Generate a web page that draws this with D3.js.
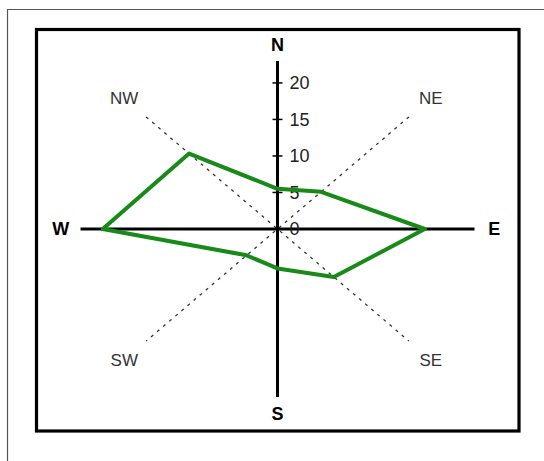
<!DOCTYPE html>
<html>
<head>
<meta charset="utf-8">
<script src="https://cdn.jsdelivr.net/npm/d3@7"></script>
<style>
  body { margin: 0; background: #fff; }
  svg { display: block; }
  text { font-family: "Liberation Sans", Arial, sans-serif; }
</style>
</head>
<body>
<div id="chart"></div>
<script>
    var width = 544,
        height = 461;

    // compass directions, clockwise from north
    var directions = ["N", "NE", "E", "SE", "S", "SW", "W", "NW"];
    var angles = [90, 45, 0, -45, -90, -135, 180, 135];
    var values = [5.5, 7.2, 17.2, 9.3, 5.4, 5.1, 20.4, 14.6];
    var ticks = [0, 5, 10, 15, 20];

    var maxR = 23,     // axis length
        diagR = 21.7,  // dashed diagonals
        labelR = 25.3; // direction labels

    var cx = 277.5, cy = 229;

    var svg = d3.select('#chart').append('svg')
                .attr('width', width)
                .attr('height', height);

    // x is stretched a bit compared to y, like the original picture
    var x = d3.scaleLinear().domain([-maxR, maxR]).range([cx - 197, cx + 197]);
    var y = d3.scaleLinear().domain([-maxR, maxR]).range([cy + 168, cy - 168]);

    function px(r, a) { return x(r * Math.cos(a * Math.PI / 180)); }
    function py(r, a) { return y(r * Math.sin(a * Math.PI / 180)); }

    // outer thin frame
    svg.append('path')
       .attr('d', 'M7.5,' + height + 'V9.5H' + width)
       .attr('fill', 'none')
       .attr('stroke', '#555')
       .attr('stroke-width', 1.2);

    // inner black frame
    svg.append('rect')
       .attr('x', 36.5).attr('y', 29.5)
       .attr('width', 482.5).attr('height', 401.5)
       .attr('fill', 'none')
       .attr('stroke', '#000')
       .attr('stroke-width', 3.2);

    // dashed diagonals
    [45, 135].forEach(function(a) {
        svg.append('line')
           .attr('x1', px(diagR, a)).attr('y1', py(diagR, a))
           .attr('x2', px(diagR, a + 180)).attr('y2', py(diagR, a + 180))
           .attr('stroke', '#333')
           .attr('stroke-width', 1.3)
           .attr('stroke-dasharray', '3,5');
    });

    // main axes
    svg.append('line')
       .attr('x1', x(-maxR)).attr('y1', y(0))
       .attr('x2', x(maxR)).attr('y2', y(0))
       .attr('stroke', '#000').attr('stroke-width', 3);
    svg.append('line')
       .attr('x1', x(0)).attr('y1', y(-maxR))
       .attr('x2', x(0)).attr('y2', y(maxR))
       .attr('stroke', '#000').attr('stroke-width', 3);

    // ticks on north axis
    var tk = svg.append('g').selectAll('g')
                .data(ticks).enter().append('g');
    tk.append('line')
      .attr('x1', x(0) - 5).attr('x2', x(0) + 5)
      .attr('y1', function(d) { return y(d); })
      .attr('y2', function(d) { return y(d); })
      .attr('stroke', '#000').attr('stroke-width', 1.5);
    tk.append('text')
      .attr('x', x(0) + 12)
      .attr('y', function(d) { return y(d); })
      .attr('dy', '0.36em')
      .attr('font-size', 18)
      .attr('fill', '#222')
      .text(function(d) { return d; });

    // data polygon
    var pts = values.map(function(v, i) { return [px(v, angles[i]), py(v, angles[i])]; });
    svg.append('path')
       .attr('d', d3.line()(pts) + 'Z')
       .attr('fill', 'none')
       .attr('stroke', '#178a17')
       .attr('stroke-width', 4)
       .attr('stroke-linejoin', 'round');

    // direction labels
    svg.append('g').selectAll('text')
       .data(directions).enter().append('text')
       .attr('x', function(d, i) { return px(labelR, angles[i]); })
       .attr('y', function(d, i) { return py(labelR, angles[i]); })
       .attr('dy', '0.36em')
       .attr('text-anchor', 'middle')
       .attr('font-size', function(d) { return d.length == 1 ? 18 : 17; })
       .attr('font-weight', function(d) { return d.length == 1 ? 'bold' : 'normal'; })
       .attr('fill', function(d) { return d.length == 1 ? '#000' : '#333'; })
       .text(function(d) { return d; });
</script>
</body>
</html>
